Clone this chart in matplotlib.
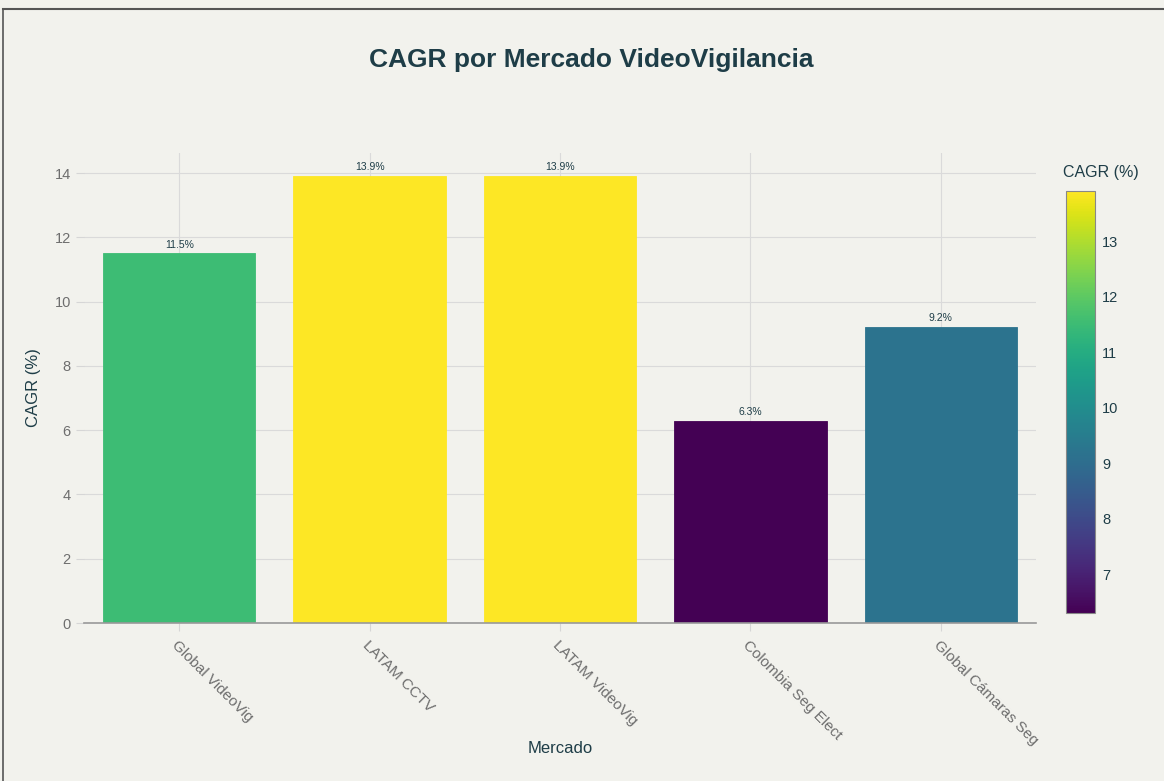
import matplotlib.pyplot as plt
import matplotlib as mpl
from matplotlib.lines import Line2D

mercados = ["Global VideoVig", "LATAM CCTV", "LATAM VideoVig", "Colombia Seg Elect", "Global Cámaras Seg"]
cagr = [11.5, 13.9, 13.9, 6.3, 9.2]

plt.rcParams['font.family'] = ['Liberation Sans', 'DejaVu Sans']

bg = '#f2f2ed'
dark = '#1e3d47'
gray = '#6e6e6e'

fig = plt.figure(figsize=(11.64, 7.81), dpi=100, facecolor=bg)
ax = fig.add_axes([0.0722, 0.2023, 0.8178, 0.6017], facecolor=bg)

norm = mpl.colors.Normalize(vmin=min(cagr), vmax=max(cagr))
cmap = plt.get_cmap('viridis')
colors = [cmap(norm(v)) for v in cagr]

x = list(range(len(mercados)))
bars = ax.bar(x, cagr, width=0.8, color=colors, edgecolor=colors, linewidth=0.6, zorder=3)
for xi, v in zip(x, cagr):
    ax.text(xi, v + 0.12, f"{v}%", ha='center', va='bottom', fontsize=7.5, color=dark, zorder=4)

ax.set_xlim(-0.5, 4.5)
ax.set_ylim(0, 14.62)
ax.set_yticks(range(0, 15, 2))
ax.set_xticks(x)
ax.set_xticklabels(mercados, rotation=-45, ha='left', va='top', rotation_mode='anchor')
ax.tick_params(axis='both', colors='#d6d6d6', labelcolor=gray, labelsize=10.5, length=6)
ax.tick_params(axis='x', pad=5, labelsize=11)
ax.grid(True, color='#dadada', linewidth=0.8, zorder=0)
for s in ['top', 'right', 'left']:
    ax.spines[s].set_visible(False)
ax.spines['bottom'].set_color('#999999')
ax.spines['bottom'].set_linewidth(1.2)
ax.spines['bottom'].set_zorder(5)

ax.set_xlabel("Mercado", fontsize=12, color=dark, va='center')
ax.xaxis.set_label_coords(0.5, -0.266)
ax.set_ylabel("CAGR (%)", fontsize=12, color=dark, labelpad=10)

fig.text(0.508, 0.923, "CAGR por Mercado VideoVigilancia", ha='center', va='center',
         fontsize=19, color=dark, fontweight='bold')

cax = fig.add_axes([0.9158, 0.2151, 0.0249, 0.5403])
cb = fig.colorbar(mpl.cm.ScalarMappable(norm=norm, cmap=cmap), cax=cax)
cb.set_ticks(range(7, 14))
cb.ax.tick_params(length=0, labelsize=10.5, labelcolor=dark, pad=5)
cb.outline.set_edgecolor('#888888')
cb.outline.set_linewidth(0.8)
fig.text(0.913, 0.779, "CAGR (%)", ha='left', va='center', fontsize=11.5, color=dark)

# frame of screenshot
fig.add_artist(Line2D([0.0026, 1], [0.988, 0.988], color='#555555', linewidth=1.5, transform=fig.transFigure))
fig.add_artist(Line2D([0.0026, 0.0026], [0, 0.988], color='#555555', linewidth=1.2, transform=fig.transFigure))

fig.savefig("out.png", dpi=100, facecolor=bg)
